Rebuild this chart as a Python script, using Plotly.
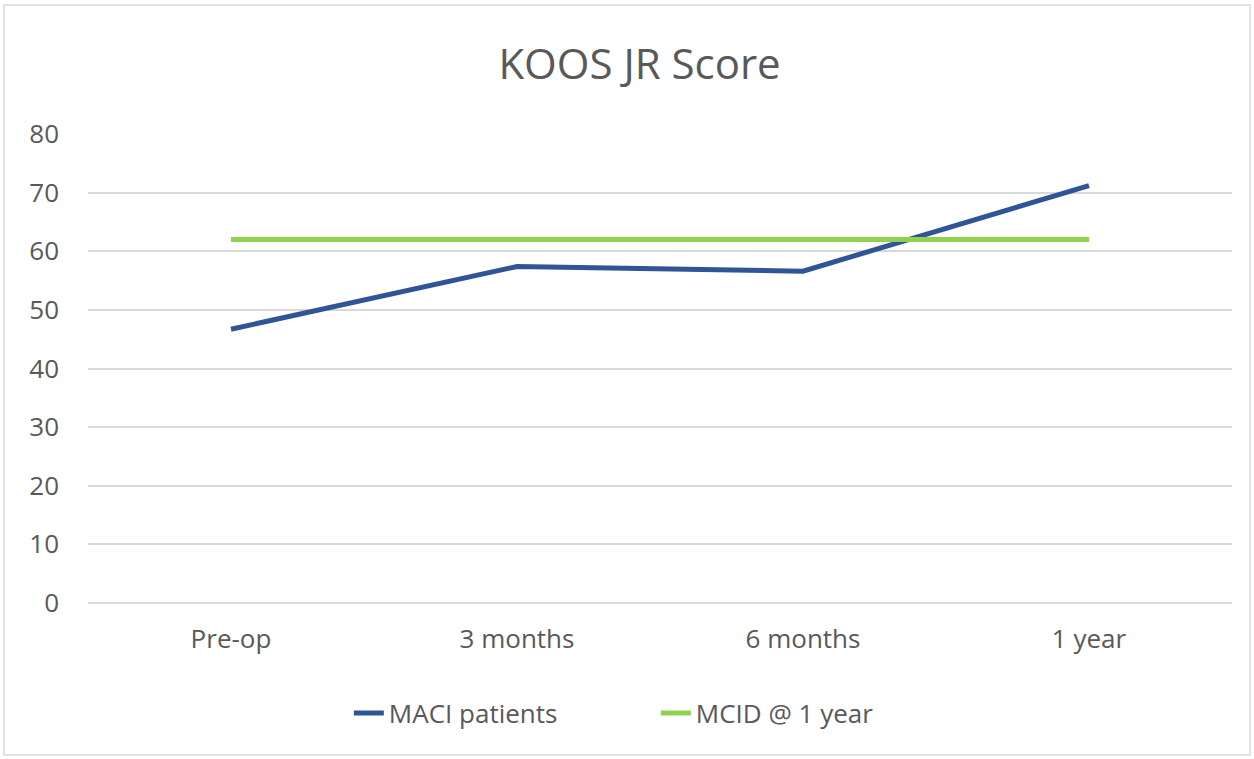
import plotly.graph_objects as go

# Data
timepoints = ["Pre-op", "3 months", "6 months", "1 year"]
maci_patients = [46.7, 57.4, 56.6, 71.2]
mcid_1_year = [62, 62, 62, 62]
y_ticks = [0, 10, 20, 30, 40, 50, 60, 70, 80]

font_family = "Open Sans, Noto Sans, sans-serif"
text_color = "#595959"

fig = go.Figure()

fig.add_trace(go.Scatter(
    x=timepoints,
    y=maci_patients,
    mode="lines",
    name="MACI patients",
    line=dict(color="#2F5597", width=5),
))

fig.add_trace(go.Scatter(
    x=timepoints,
    y=mcid_1_year,
    mode="lines",
    name="MCID @ 1 year",
    line=dict(color="#92D050", width=5),
))

# Light frame around the whole chart area
fig.add_shape(
    type="rect", xref="paper", yref="paper",
    x0=-84 / 1144, x1=1 + 18 / 1144,
    y0=-152 / 469, y1=1 + 129 / 469,
    line=dict(color="#D9D9D9", width=1.5),
    layer="below",
)

fig.update_layout(
    width=1254,
    height=759,
    margin=dict(l=88, r=22, t=134, b=156),
    paper_bgcolor="white",
    plot_bgcolor="white",
    title=dict(
        text="KOOS JR Score",
        x=0.51, xanchor="center",
        y=0.915, yanchor="middle",
        font=dict(family=font_family, size=42, color=text_color),
    ),
    font=dict(family=font_family, size=26, color=text_color),
    xaxis=dict(
        showgrid=False,
        showline=False,
        ticks="",
        range=[-0.5, 3.5],
        ticklabelstandoff=18,
        tickfont=dict(size=26, color=text_color),
    ),
    yaxis=dict(
        range=[0, 80],
        tickvals=y_ticks,
        showgrid=True,
        gridcolor="#D9D9D9",
        gridwidth=1.5,
        zeroline=True,
        zerolinecolor="#D9D9D9",
        zerolinewidth=1.5,
        ticks="",
        ticklabelstandoff=28,
        tickfont=dict(size=26, color=text_color),
    ),
    showlegend=True,
    legend=dict(
        orientation="h",
        x=0.228, xanchor="left",
        y=-0.235, yanchor="middle",
        font=dict(size=26, color=text_color),
        entrywidth=262,
        entrywidthmode="pixels",
    ),
)

# remove the default page margin so the figure sits at the window's corner
fig.write_html(
    "out.html",
    config={"displayModeBar": False},
    post_script="document.body.style.margin='0';",
)
